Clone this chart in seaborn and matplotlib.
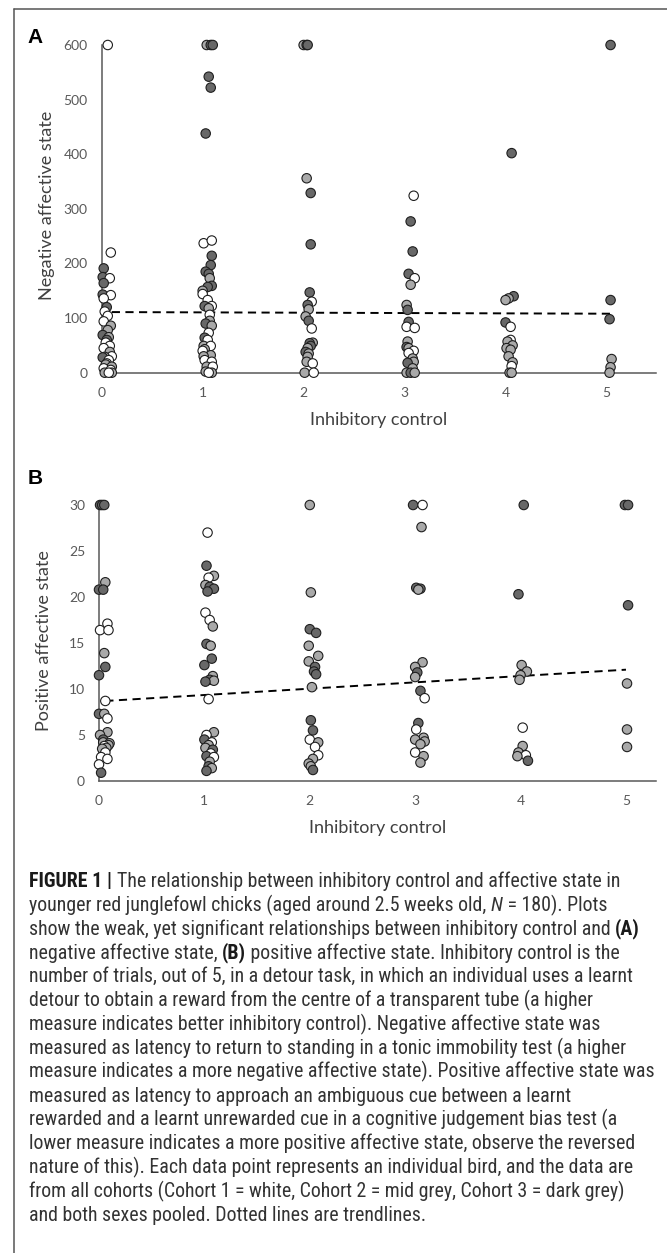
import matplotlib
matplotlib.use("Agg")
import matplotlib.pyplot as plt
import seaborn as sns
import pandas as pd
from matplotlib import font_manager
from matplotlib.lines import Line2D

# ---- Panel A: negative affective state (x = inhibitory control incl. jitter) ----
neg_x = [0.06, 0.09, 0.02, 0.01, 0.08, 0.02, 0.01, 0.09, 0.02, 0.05, 0.03, 0.06, 0.02, 0.09, 0.06, 0.01, 0.07,
         0.05, 0.04, 0.08, 0.02, 0.08, 0.10, 0.03, 0.01, 0.07, 0.05, 0.04, 0.10, 0.02, 0.09, 0.03, 0.10, 0.07,
         1.04, 1.08, 1.10, 1.06, 1.08, 1.03, 1.01, 1.09, 1.09, 1.08, 1.03, 1.06, 1.07, 1.09, 1.05, 1.00, 1.00,
         1.05, 1.02, 1.09, 1.06, 1.07, 1.07, 1.03, 1.09, 1.06, 1.02, 1.05, 1.01, 1.08, 1.02, 1.00, 1.08, 1.01,
         1.02, 1.09, 1.04, 1.10, 1.03, 1.09, 1.06,
         2.00, 2.03, 2.04, 2.03, 2.07, 2.07, 2.06, 2.08, 2.04, 2.05, 2.02, 2.05, 2.08, 2.09, 2.06, 2.07, 2.04,
         2.02, 2.05, 2.04, 2.03, 2.09, 2.01, 2.10,
         3.09, 3.06, 3.08, 3.04, 3.10, 3.06, 3.02, 3.03, 3.04, 3.02, 3.10, 3.03, 3.02, 3.04, 3.09, 3.04, 3.08,
         3.09, 3.03, 3.08, 3.02, 3.06, 3.10,
         4.06, 4.08, 4.03, 4.00, 4.00, 4.05, 4.05, 4.02, 4.07, 4.01, 4.05, 4.03, 4.07, 4.06, 4.04, 4.06,
         5.04, 5.04, 5.03, 5.05, 5.04, 5.03]
neg_y = [600, 220, 191, 175, 173, 164, 143, 142, 136, 120, 112, 104, 94, 86, 78, 69, 65,
         60, 55, 49, 45, 38, 30, 29, 28, 23, 17, 15, 11, 8, 5, 0, 0, 0,
         600, 600, 600, 542, 522, 438, 237, 242, 214, 197, 185, 181, 173, 159, 157, 150, 144,
         133, 122, 122, 118, 106, 95, 90, 86, 73, 64, 60, 49, 49, 43, 40, 32, 30,
         23, 20, 11, 11, 2, 0, 0,
         600, 600, 600, 356, 329, 235, 147, 130, 124, 116, 103, 95, 81, 55, 54, 49, 45,
         38, 35, 29, 20, 17, 0, 0,
         324, 277, 222, 181, 173, 161, 124, 115, 93, 84, 82, 57, 47, 45, 40, 36, 26,
         20, 18, 8, 0, 0, 0,
         402, 140, 136, 133, 92, 84, 60, 57, 50, 45, 42, 30, 19, 12, 0, 0,
         600, 133, 98, 25, 10, 0]
neg_cohort = [1, 1, 3, 3, 1, 3, 3, 1, 1, 3, 1, 1, 1, 2, 2, 3, 2,
              3, 1, 1, 1, 2, 1, 2, 3, 1, 1, 2, 2, 1, 1, 2, 2, 1,
              2, 3, 3, 3, 3, 3, 1, 1, 3, 3, 3, 3, 2, 3, 3, 2, 1,
              1, 3, 1, 2, 1, 2, 3, 2, 1, 3, 1, 2, 1, 2, 1, 2, 2,
              1, 1, 2, 1, 2, 2, 1,
              2, 3, 3, 2, 3, 3, 3, 1, 3, 2, 2, 3, 1, 2, 3, 3, 2,
              3, 2, 2, 2, 1, 2, 1,
              1, 3, 3, 3, 1, 2, 2, 3, 3, 1, 1, 2, 3, 2, 1, 1, 2,
              2, 3, 2, 2, 3, 2,
              3, 3, 2, 2, 3, 1, 1, 2, 2, 2, 2, 2, 2, 1, 2, 2,
              3, 3, 3, 2, 2, 2]
neg_trend_x = [0.10, 5.04]
neg_trend_y = [111, 108]

# ---- Panel B: positive affective state ----
pos_x = [0.01, 0.03, 0.05, 0.06, 0.00, 0.04, 0.08, 0.01, 0.09, 0.05, 0.06, 0.00, 0.06, 0.00, 0.05,
         0.08, 0.08, 0.01, 0.04, 0.04, 0.10, 0.09, 0.05, 0.07, 0.03, 0.06, 0.02, 0.08, 0.00, 0.02,
         1.03, 1.02, 1.09, 1.04, 1.01, 1.05, 1.09, 1.03, 1.01, 1.05, 1.08, 1.02, 1.06, 1.07, 1.00,
         1.08, 1.05, 1.09, 1.01, 1.04, 1.09, 1.02, 1.00, 1.07, 1.04, 1.01, 1.08, 1.06, 1.02, 1.09,
         1.05, 1.04, 1.07, 1.02,
         2.00, 2.01, 2.00, 2.06, 1.99, 2.08, 1.99, 2.05, 2.04, 2.06, 2.02, 2.01, 2.03, 2.00, 2.08,
         2.05, 2.08, 2.03, 1.99, 2.01, 2.03,
         2.98, 3.07, 3.06, 3.01, 3.05, 3.03, 3.07, 3.00, 3.02, 3.00, 3.05, 3.09, 3.03, 3.01, 3.08,
         3.00, 3.09, 3.05, 3.00, 3.08, 3.05,
         4.03, 3.98, 4.01, 4.06, 4.00, 3.99, 4.02, 4.02, 3.98, 4.05, 3.97, 4.07,
         4.99, 5.02, 5.02, 5.01, 5.01, 5.01]
pos_y = [30, 30, 30, 21.6, 20.8, 20.8, 17.1, 16.4, 16.4, 13.9, 12.4, 11.5, 8.7, 7.3, 7.3,
         6.8, 5.3, 5.0, 4.5, 4.2, 4.1, 3.9, 3.8, 3.6, 3.5, 3.1, 2.6, 2.4, 1.8, 0.9,
         27.0, 23.4, 22.3, 22.1, 21.3, 21.1, 20.9, 20.6, 18.3, 17.5, 16.8, 14.9, 14.7, 13.3, 12.6,
         11.4, 11.0, 10.9, 10.8, 8.9, 5.3, 5.0, 4.5, 4.2, 3.9, 3.6, 3.4, 3.0, 2.7, 2.6,
         2.1, 1.6, 1.4, 1.1,
         30, 20.5, 16.5, 16.1, 14.7, 13.6, 13.0, 12.4, 11.9, 11.6, 10.2, 6.6, 5.5, 4.5, 4.2,
         3.7, 2.8, 2.4, 1.9, 1.6, 1.2,
         30, 30, 27.6, 21.0, 20.9, 20.8, 12.9, 12.4, 11.8, 11.3, 9.8, 9.0, 6.3, 5.6, 4.7,
         4.5, 4.3, 4.0, 3.1, 2.7, 2.0,
         30, 20.3, 12.6, 11.9, 11.5, 11.0, 5.8, 3.8, 3.1, 2.8, 2.7, 2.2,
         30, 30, 19.1, 10.6, 5.6, 3.7]
pos_cohort = [3, 3, 3, 2, 3, 3, 1, 1, 1, 2, 3, 3, 1, 3, 2,
              1, 2, 2, 3, 2, 2, 2, 1, 2, 2, 1, 1, 1, 1, 3,
              1, 3, 2, 1, 2, 3, 3, 3, 1, 1, 2, 3, 2, 3, 3,
              2, 3, 2, 3, 1, 2, 1, 3, 1, 2, 2, 3, 1, 3, 1,
              2, 3, 2, 3,
              2, 2, 3, 3, 2, 2, 2, 3, 3, 3, 2, 3, 3, 1, 2,
              1, 1, 2, 2, 2, 3,
              3, 1, 2, 3, 3, 2, 2, 2, 3, 2, 3, 1, 3, 1, 2,
              2, 2, 2, 1, 2, 2,
              3, 3, 2, 2, 2, 2, 1, 2, 2, 1, 2, 3,
              3, 3, 3, 2, 2, 2]
pos_trend_x = [0.06, 5.00]
pos_trend_y = [8.7, 12.1]

tick_values = [0, 1, 2, 3, 4, 5]
neg_yticks = [0, 100, 200, 300, 400, 500, 600]
pos_yticks = [0, 5, 10, 15, 20, 25, 30]

caption = [
    [("FIGURE 1 | ", "bold", "normal"),
     ("The relationship between inhibitory control and affective state in", "normal", "normal")],
    [("younger red junglefowl chicks (aged around 2.5 weeks old, ", "normal", "normal"),
     ("N", "normal", "italic"), (" = 180). Plots", "normal", "normal")],
    [("show the weak, yet significant relationships between inhibitory control and ", "normal", "normal"),
     ("(A)", "bold", "normal")],
    [("negative affective state, ", "normal", "normal"), ("(B)", "bold", "normal"),
     (" positive affective state. Inhibitory control is the", "normal", "normal")],
    [("number of trials, out of 5, in a detour task, in which an individual uses a learnt", "normal", "normal")],
    [("detour to obtain a reward from the centre of a transparent tube (a higher", "normal", "normal")],
    [("measure indicates better inhibitory control). Negative affective state was", "normal", "normal")],
    [("measured as latency to return to standing in a tonic immobility test (a higher", "normal", "normal")],
    [("measure indicates a more negative affective state). Positive affective state was", "normal", "normal")],
    [("measured as latency to approach an ambiguous cue between a learnt", "normal", "normal")],
    [("rewarded and a learnt unrewarded cue in a cognitive judgement bias test (a", "normal", "normal")],
    [("lower measure indicates a more positive affective state, observe the reversed", "normal", "normal")],
    [("nature of this). Each data point represents an individual bird, and the data are", "normal", "normal")],
    [("from all cohorts (Cohort 1 = white, Cohort 2 = mid grey, Cohort 3 = dark grey)", "normal", "normal")],
    [("and both sexes pooled. Dotted lines are trendlines.", "normal", "normal")],
]

sns.set_style("white")
plt.rcParams["font.family"] = ["Lato", "DejaVu Sans"]

available = {f.name for f in font_manager.fontManager.ttflist}
cap_font = next((f for f in ["Liberation Sans Narrow", "Roboto Condensed", "Liberation Sans"]
                 if f in available), "DejaVu Sans")

W, H = 667, 1253
fig = plt.figure(figsize=(W / 100, H / 100), dpi=100)
palette = {1: "white", 2: "#a9a9a9", 3: "#686868"}
grey_txt = "#595959"


def draw_panel(rect, xs, ys, cohorts, tx, ty, yticks, xmax, ylabel, ylab_y, xlab_y):
    ax = fig.add_axes(rect)
    df = pd.DataFrame({"ic": xs, "val": ys, "cohort": cohorts})
    sns.scatterplot(data=df, x="ic", y="val", hue="cohort", palette=palette, s=46,
                    edgecolor="#1e1e1e", linewidth=0.8, legend=False, ax=ax,
                    clip_on=False, zorder=3)
    trend = pd.DataFrame({"ic": tx, "val": ty})
    sns.lineplot(data=trend, x="ic", y="val", ax=ax, color="black", lw=1.4,
                 linestyle=(0, (4.2, 2.8)), zorder=2)
    ax.set_xlim(0, xmax)
    ax.set_ylim(yticks[0], yticks[-1])
    ax.set_xticks(tick_values)
    ax.set_yticks(yticks)
    ax.tick_params(length=0, pad=10, labelsize=10, colors=grey_txt)
    sns.despine(ax=ax)
    for side in ["left", "bottom"]:
        ax.spines[side].set_color(grey_txt)
        ax.spines[side].set_linewidth(1.1)
    ax.set_xlabel("Inhibitory control", fontsize=13, color="#404040")
    ax.set_ylabel(ylabel, fontsize=13, color="#404040")
    ax.xaxis.label.set_va("center")
    ax.yaxis.label.set_va("center")
    ax.xaxis.set_label_coords(0.5, xlab_y)
    ax.yaxis.set_label_coords(-0.099, ylab_y)
    return ax


draw_panel([101.7 / W, 1 - 372.7 / H, 554.3 / W, 327.7 / H], neg_x, neg_y, neg_cohort,
           neg_trend_x, neg_trend_y, neg_yticks, 5.49, "Negative affective state", 0.51, -0.144)
draw_panel([99 / W, 1 - 781 / H, 557 / W, 276 / H], pos_x, pos_y, pos_cohort,
           pos_trend_x, pos_trend_y, pos_yticks, 5.285, "Positive affective state", 0.51, -0.17)

for letter, ypx in [("A", 37.5), ("B", 478.5)]:
    fig.text(35 / W, 1 - ypx / H, letter, fontsize=15, fontweight="bold",
             family=["Liberation Sans", "DejaVu Sans"], ha="center", va="center", color="black")

# frame of the figure box
fig.add_artist(Line2D([14 / W, 14 / W], [0, 1 - 9 / H], color="#555555", lw=1.1, transform=fig.transFigure))
fig.add_artist(Line2D([14 / W, 1], [1 - 9 / H, 1 - 9 / H], color="#555555", lw=1.1, transform=fig.transFigure))

renderer = fig.canvas.get_renderer()


def text_width(txt, **kw):
    a = fig.text(0, 0, txt + "|", **kw)
    b = fig.text(0, 0, "|", **kw)
    w = a.get_window_extent(renderer).width - b.get_window_extent(renderer).width
    a.remove()
    b.remove()
    return w


def seg_kw(weight, style, size):
    return dict(fontsize=size, fontweight=weight, fontstyle=style,
                family=[cap_font, "DejaVu Sans"],
                color="#1a1a1a" if weight == "bold" else "#333333")


# caption size chosen so the widest line ends ~654 px, like the reference
widest = max(sum(text_width(t, **seg_kw(w, s, 13)) for t, w, s in parts) for parts in caption)
cap_size = 13 * 623 / widest

for i, parts in enumerate(caption):
    x = 29
    y = 887 + 23.85 * i
    for txt, weight, style in parts:
        kw = seg_kw(weight, style, cap_size)
        fig.text(x / W, 1 - y / H, txt, ha="left", va="baseline", **kw)
        x += text_width(txt, **kw)

fig.savefig("out.png", dpi=100)
